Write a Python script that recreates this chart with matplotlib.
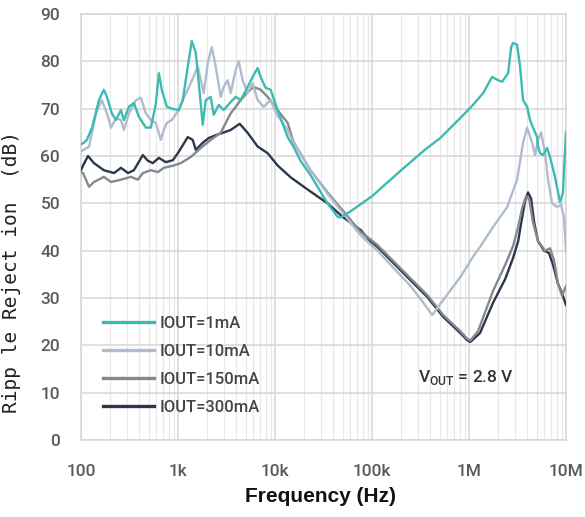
import matplotlib
matplotlib.use("Agg")
import matplotlib.pyplot as plt
from matplotlib.ticker import FixedLocator, LogLocator, NullFormatter

# ---- data: frequency (Hz) and ripple rejection (dB) per load current ----
f_1ma = [100, 107, 115, 130, 153, 172, 185, 208, 229, 258, 277, 312, 351, 395, 466, 525,
         591, 635, 681, 767, 863, 1019, 1120, 1261, 1387, 1525, 1675, 1799, 1932, 2173,
         2334, 2630, 2958, 3491, 3936, 4426, 5224, 5888, 6622, 7112, 8000, 9016, 10640,
         13500, 15500, 18300, 23200, 34800, 44000, 47300, 60000, 100e3, 200e3, 350e3,
         506e3, 812e3, 1.1e6, 1.4e6, 1.73e6, 2.0e6, 2.2e6, 2.53e6, 2.72e6, 2.85e6, 3.13e6,
         3.36e6, 3.61e6, 3.97e6, 4.26e6, 4.57e6, 5.03e6, 5.15e6, 5.40e6, 5.80e6, 6.38e6,
         6.84e6, 7.70e6, 8.67e6, 9.31e6, 9.53e6, 10e6]
db_1ma = [62.5, 62.8, 63.4, 66.0, 71.8, 74.0, 72.5, 69.0, 67.6, 69.7, 67.6, 70.4, 71.2, 68.3,
          66.0, 66.0, 71.0, 77.5, 74.0, 70.4, 70.0, 69.7, 71.8, 78.9, 84.3, 81.8, 73.3, 66.6,
          71.8, 72.5, 68.7, 70.8, 69.7, 71.4, 72.5, 71.8, 74.6, 76.7, 78.6, 76.7, 74.4, 74.0,
          69.7, 64.0, 62.0, 59.0, 56.0, 50.0, 47.2, 47.0, 48.3, 51.5, 57.0, 61.3, 63.8, 68.0,
          70.8, 73.3, 76.7, 76.0, 75.7, 77.5, 83.0, 83.9, 83.5, 78.9, 71.8, 70.4, 67.6, 66.0,
          64.0, 62.0, 60.6, 60.2, 61.7, 59.8, 55.6, 50.3, 52.2, 57.0, 65.0]

f_10ma = [100, 107, 121, 143, 164, 185, 204, 229, 258, 277, 312, 368, 414, 466, 525, 591,
          665, 714, 767, 863, 1019, 1120, 1355, 1600, 1842, 2026, 2228, 2449, 2754, 2958,
          3251, 3491, 3936, 4227, 4645, 5224, 5888, 6622, 7638, 9016, 10640, 13500, 15500,
          18300, 23200, 34800, 50800, 76000, 113.7e3, 166e3, 248e3, 330e3, 418e3, 543e3,
          812e3, 1.1e6, 1.3e6, 1.77e6, 2.47e6, 3.13e6, 3.61e6, 3.97e6, 4.47e6, 4.80e6,
          5.15e6, 5.53e6, 6.08e6, 6.53e6, 7.18e6, 8.08e6, 8.89e6, 9.53e6, 10e6]
db_10ma = [61.0, 61.3, 62.0, 69.0, 71.8, 69.0, 66.0, 68.0, 67.6, 65.5, 69.0, 71.8, 72.3, 69.0,
           67.6, 67.0, 63.4, 65.5, 67.0, 67.6, 69.7, 71.8, 75.4, 78.9, 73.3, 79.6, 83.0, 78.9,
           72.5, 74.6, 76.0, 73.3, 78.2, 80.0, 76.0, 73.3, 75.4, 71.8, 70.4, 71.8, 68.5, 65.5,
           62.8, 60.6, 57.0, 52.0, 47.8, 43.3, 40.0, 36.4, 32.6, 29.3, 26.4, 29.6, 34.4, 38.7,
           40.8, 45.0, 49.2, 55.0, 62.8, 66.0, 62.8, 60.2, 63.4, 65.0, 60.6, 55.0, 50.0, 49.2,
           49.7, 47.0, 40.0]

f_150ma = [100, 105, 121, 136, 172, 204, 258, 327, 386, 434, 525, 620, 714, 906, 1069, 1355,
           1717, 2173, 2754, 3491, 3936, 4426, 5224, 6026, 7112, 8395, 10640, 13500, 15500,
           18300, 23200, 34800, 50800, 76000, 96000, 113.7e3, 166e3, 248e3, 372e3, 543e3,
           812e3, 958e3, 1.03e6, 1.24e6, 1.77e6, 2.36e6, 2.85e6, 3.21e6, 3.53e6, 3.88e6,
           4.16e6, 4.57e6, 5.15e6, 6.08e6, 6.84e6, 7.53e6, 8.27e6, 9.10e6, 10e6]
db_150ma = [56.5, 56.4, 53.5, 54.5, 55.6, 54.5, 55.0, 55.6, 55.0, 56.4, 57.0, 56.6, 57.5, 58.0,
            58.5, 59.8, 61.7, 63.4, 64.9, 69.0, 70.4, 71.8, 73.5, 74.6, 74.0, 72.5, 69.7, 67.0,
            63.0, 60.5, 57.0, 52.3, 48.3, 44.0, 42.4, 41.2, 37.8, 34.2, 30.6, 26.4, 23.0, 21.4,
            21.0, 23.0, 31.5, 37.0, 41.0, 45.0, 49.0, 51.5, 51.0, 46.0, 42.0, 40.0, 40.5, 38.0,
            33.0, 30.5, 32.5]

f_300ma = [100, 105, 118, 136, 172, 219, 258, 305, 351, 434, 489, 550, 635, 749, 884, 1019,
           1261, 1420, 1525, 1799, 2075, 2449, 2891, 3491, 4325, 5224, 6622, 8395, 10640,
           14500, 18300, 23200, 34800, 50800, 76000, 96000, 113.7e3, 166e3, 248e3, 372e3,
           543e3, 812e3, 958e3, 1.03e6, 1.3e6, 1.77e6, 2.36e6, 2.85e6, 3.21e6, 3.53e6,
           3.79e6, 4.06e6, 4.37e6, 4.69e6, 5.15e6, 5.94e6, 6.68e6, 7.35e6, 8.27e6, 9.10e6, 10e6]
db_300ma = [57.0, 58.0, 60.0, 58.5, 57.0, 56.4, 57.5, 56.4, 57.0, 60.2, 59.0, 58.5, 59.6, 58.7,
            59.1, 60.9, 64.0, 63.4, 61.3, 62.8, 63.8, 64.4, 64.9, 65.5, 66.8, 64.9, 62.0, 60.6,
            58.0, 55.5, 54.0, 52.5, 50.0, 47.0, 44.4, 42.0, 40.8, 37.4, 33.8, 30.2, 26.0, 22.6,
            21.1, 20.7, 22.6, 29.0, 34.0, 38.5, 42.0, 47.0, 50.5, 52.3, 51.0, 46.0, 42.0, 40.0,
            39.5, 37.0, 33.0, 31.0, 28.5]

labels = ["IOUT=1mA", "IOUT=10mA", "IOUT=150mA", "IOUT=300mA"]
colors = ["#3dbab2", "#aebccd", "#85888d", "#2b384c"]

x_ticks = [100, 1e3, 1e4, 1e5, 1e6, 1e7]
x_tick_labels = ["100", "1k", "10k", "100k", "1M", "10M"]
y_ticks = list(range(0, 91, 10))

tick_font = "Roboto"

# ---- figure ----
fig = plt.figure(figsize=(5.85, 5.17), dpi=100)
ax = fig.add_axes([81 / 585, 1 - 440 / 517, 485 / 585, 426 / 517])

series = [(f_1ma, db_1ma), (f_10ma, db_10ma), (f_150ma, db_150ma), (f_300ma, db_300ma)]
# draw heavier loads first so the 1 mA trace sits on top
order = [3, 2, 1, 0]
handles = {}
for i in order:
    f, d = series[i]
    (ln,) = ax.plot(f, d, color=colors[i], lw=1.7, solid_joinstyle="round", zorder=3 + (3 - i))
    handles[i] = ln

ax.set_xscale("log")
ax.set_xlim(100, 1e7)
ax.set_ylim(0, 90)

ax.xaxis.set_major_locator(FixedLocator(x_ticks))
ax.set_xticklabels(x_tick_labels)
ax.xaxis.set_minor_locator(LogLocator(base=10, subs=range(2, 10)))
ax.xaxis.set_minor_formatter(NullFormatter())
ax.set_yticks(y_ticks)

ax.grid(True, which="major", color="#d6d6d6", lw=1.1, zorder=0)
ax.grid(True, which="minor", axis="x", color="#e8e8e8", lw=0.9, zorder=0)
ax.set_axisbelow(True)
for s in ax.spines.values():
    s.set_color("#d6d6d6")
    s.set_linewidth(1.1)

ax.tick_params(which="both", length=0)
ax.tick_params(axis="y", pad=15)
ax.tick_params(axis="x", pad=17)
for lab in ax.get_xticklabels() + ax.get_yticklabels():
    lab.set_family(tick_font)
    lab.set_fontsize(12.5)
    lab.set_fontweight("medium")
    lab.set_color("#5a5a5a")

leg = ax.legend([handles[i] for i in range(4)], labels, loc="upper left",
                bbox_to_anchor=(0.045, 0.292), frameon=False, borderpad=0,
                borderaxespad=0, handlelength=3.1, handletextpad=0.3, labelspacing=0.78,
                prop={"family": tick_font, "size": 12, "weight": "medium"})
for t in leg.get_texts():
    t.set_color("#454545")
for h in leg.get_lines():
    h.set_linewidth(2.4)

plt.rcParams["mathtext.fontset"] = "custom"
plt.rcParams["mathtext.rm"] = "Roboto:medium"
ax.text(3.0e5, 13.2, r"V$_{\mathrm{OUT}}$ = 2.8 V", fontsize=12.5, color="#333333",
        family=tick_font, fontweight="medium", va="center", ha="left")

fig.text(320 / 585, 1 - 497 / 517, "Frequency (Hz)", ha="center", va="center",
         fontsize=15, fontweight="bold", family="Liberation Sans", color="#111111")
fig.text(12 / 585, 1 - 272 / 517, "Ripp le Reject ion  (dB)", ha="center", va="center",
         rotation=90, fontsize=14, family="DejaVu Sans Mono", color="#222222")

fig.savefig("out.png", dpi=100)
